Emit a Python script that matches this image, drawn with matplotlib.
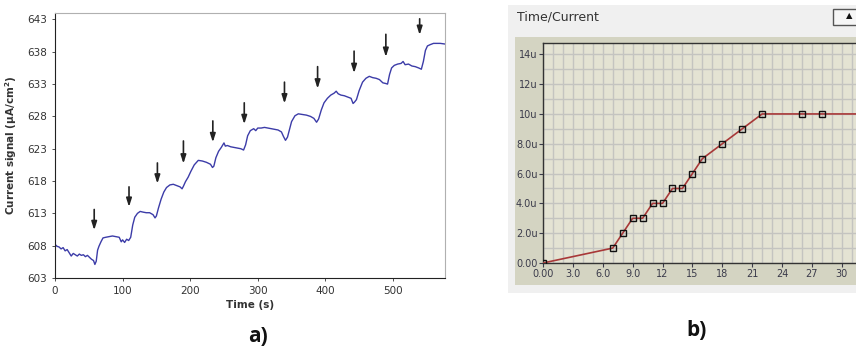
import matplotlib
matplotlib.use("Agg")
import matplotlib.pyplot as plt
from matplotlib.patches import Rectangle

# ---- panel a) data: current signal vs time (read off the picture)
time_s = [0, 3, 6, 9, 12, 15, 18, 21, 24, 27, 30, 33, 36, 39, 42, 45, 48, 51, 54, 57,
          59, 61, 63, 65, 68, 71, 75, 80, 85, 90, 95, 98, 100, 103, 106, 109, 112, 115,
          118, 122, 126, 130, 135, 140, 145, 148, 150, 153, 157, 161, 165, 170, 175, 180,
          185, 188, 190, 193, 197, 201, 206, 212, 218, 224, 230, 233, 235, 238, 242, 246,
          250, 252, 255, 260, 265, 270, 275, 279, 282, 285, 289, 294, 297, 300, 305, 310,
          315, 320, 325, 330, 335, 338, 341, 344, 347, 350, 355, 360, 366, 372, 378, 383,
          387, 390, 394, 398, 403, 408, 413, 416, 419, 423, 428, 433, 438, 441, 443, 446,
          450, 455, 460, 465, 470, 475, 480, 485, 489, 492, 495, 498, 502, 507, 512, 515,
          518, 523, 528, 533, 538, 542, 545, 548, 551, 555, 560, 565, 570, 577]
signal = [608.2, 607.9, 607.8, 607.5, 607.7, 607.2, 607.4, 606.9, 606.4, 606.8, 606.6,
          606.4, 606.7, 606.5, 606.6, 606.3, 606.5, 606.2, 605.9, 605.7, 605.1, 605.6,
          607.3, 607.9, 608.6, 609.2, 609.3, 609.4, 609.5, 609.4, 609.3, 608.6, 608.9,
          608.5, 609.0, 608.8, 609.3, 611.2, 612.4, 613.0, 613.3, 613.2, 613.1, 613.1,
          612.8, 612.3, 612.6, 613.8, 615.2, 616.3, 617.0, 617.4, 617.5, 617.3, 617.1,
          616.8, 617.2, 617.9, 618.6, 619.5, 620.5, 621.2, 621.1, 620.9, 620.6, 620.1,
          620.3, 621.6, 622.6, 623.2, 623.9, 623.4, 623.5, 623.3, 623.2, 623.1, 623.0,
          622.8, 623.6, 625.0, 625.8, 626.1, 625.8, 626.2, 626.2, 626.3, 626.2, 626.1,
          626.0, 625.9, 625.6, 624.9, 624.3, 624.8, 626.0, 627.2, 628.1, 628.4, 628.3,
          628.2, 628.0, 627.7, 627.1, 627.6, 629.0, 630.1, 630.8, 631.3, 631.6, 631.9,
          631.5, 631.3, 631.2, 631.0, 630.8, 630.0, 630.2, 630.6, 632.0, 633.3, 633.9,
          634.2, 634.0, 633.9, 633.7, 633.2, 633.1, 633.0, 634.5, 635.5, 635.9, 636.1,
          636.2, 636.5, 636.0, 636.1, 635.8, 635.7, 635.5, 635.3, 636.5, 638.2, 638.9,
          639.1, 639.3, 639.3, 639.3, 639.2]

# arrows marking each addition: x position, arrow top, arrow tip
arrow_t = [58, 109.5, 151.5, 190, 233.5, 280, 339.5, 388.5, 442.5, 489.5, 539.5]
arrow_top = [613.6, 617.1, 620.8, 624.2, 627.3, 630.1, 633.3, 635.7, 638.1, 640.7, 643.1]
arrow_tip = [610.4, 614.0, 617.6, 620.7, 624.0, 626.8, 630.0, 632.3, 634.7, 637.2, 640.6]

# ---- panel b) data: time/current curve
tc_time = [0, 7, 8, 9, 10, 11, 12, 13, 14, 15, 16, 18, 20, 22, 26, 28, 36]
tc_current = [0, 1, 2, 3, 3, 4, 4, 5, 5, 6, 7, 8, 9, 10, 10, 10, 10]
tc_yticks = [0, 2, 4, 6, 8, 10, 12, 14]
tc_ylabels = ["0.00", "2.0u", "4.0u", "6.0u", "8.0u", "10u", "12u", "14u"]
tc_xticks = [0, 3, 6, 9, 12, 15, 18, 21, 24, 27, 30]
tc_xlabels = ["0.00", "3.0", "6.0", "9.0", "12", "15", "18", "21", "24", "27", "30"]

W, H = 856, 351
fig = plt.figure(figsize=(W / 100, H / 100), dpi=100)


def box(x0, y0, x1, y1):
    # pixel box (top-left origin) -> figure fraction [l, b, w, h]
    return [x0 / W, 1 - y1 / H, (x1 - x0) / W, (y1 - y0) / H]


# ================= panel a =================
ax = fig.add_axes(box(55, 13, 445, 278))
ax.plot(time_s, signal, color="#3c3ca8", lw=1.0)
for t, y0, y1 in zip(arrow_t, arrow_top, arrow_tip):
    ax.annotate("", xy=(t, y1), xytext=(t, y0),
                arrowprops=dict(arrowstyle="-|>,head_length=0.5,head_width=0.16",
                                color="#222222", lw=1.2, shrinkA=0, shrinkB=0))
ax.set_xlim(0, 577)
ax.set_ylim(603, 644)
ax.set_xticks(range(0, 501, 100))
ax.set_yticks(range(603, 644, 5))
ax.tick_params(labelsize=7.5, colors="#333333", length=2, width=0.6)
for s in ["top", "right"]:
    ax.spines[s].set_color("#b0b0b0")
for s in ["left", "bottom"]:
    ax.spines[s].set_color("#222222")
ax.set_xlabel("Time (s)", fontsize=7.5, fontweight="bold", color="#333333", labelpad=3)
ax.set_ylabel("Current signal (\u03bcA/cm$^\\mathbf{2}$)", fontsize=7.5,
              fontweight="bold", color="#333333", labelpad=6)

fig.text(258 / W, 1 - 336 / H, "a)", fontsize=15, fontweight="bold",
         family="Open Sans", ha="center", va="center", color="#111111")

# ================= panel b =================
fig.patches.append(Rectangle((508 / W, 1 - 293 / H), 1, (293 - 5) / H,
                             transform=fig.transFigure, facecolor="#f0f0f0",
                             edgecolor="none", zorder=-2))
fig.patches.append(Rectangle((515 / W, 1 - 285 / H), 1, (285 - 37) / H,
                             transform=fig.transFigure, facecolor="#d4d4c2",
                             edgecolor="none", zorder=-1))
# little scroll button in the corner
fig.patches.append(Rectangle((833 / W, 1 - 25 / H), 30 / W, 16 / H,
                             transform=fig.transFigure, facecolor="#f6f6f6",
                             edgecolor="#555555", lw=1.0, zorder=1))
fig.text(849 / W, 1 - 16 / H, "\u25b2", fontsize=6, ha="center", va="center",
         color="#111111")
fig.text(517 / W, 1 - 17 / H, "Time/Current", fontsize=9, ha="left", va="center",
         color="#333333")

bx = fig.add_axes(box(543, 43, 543 + 33 * 9.96, 263))
bx.set_zorder(2)
bx.set_facecolor("#e4e3d3")
bx.plot(tc_time, tc_current, color="#a83838", lw=1.2, marker="s", ms=5,
        mfc="none", mec="#111111", mew=1.0, zorder=3)
bx.set_xlim(0, 33)
bx.set_ylim(0, 14.76)
bx.set_xticks(tc_xticks)
bx.set_xticklabels(tc_xlabels)
bx.set_yticks(tc_yticks)
bx.set_yticklabels(tc_ylabels)
bx.set_xticks(range(0, 34), minor=True)
bx.set_yticks(range(0, 15), minor=True)
bx.grid(which="both", color="#c4c4c0", lw=1.0)
bx.set_axisbelow(True)
bx.tick_params(which="major", labelsize=7, colors="#3a3a4a", length=3, width=0.8, pad=1)
bx.tick_params(which="minor", length=0)
for s in bx.spines.values():
    s.set_color("#333333")
    s.set_linewidth(1.0)

fig.text(697 / W, 1 - 330 / H, "b)", fontsize=15, fontweight="bold",
         family="Open Sans", ha="center", va="center", color="#111111")

fig.savefig("out.png", dpi=100)
